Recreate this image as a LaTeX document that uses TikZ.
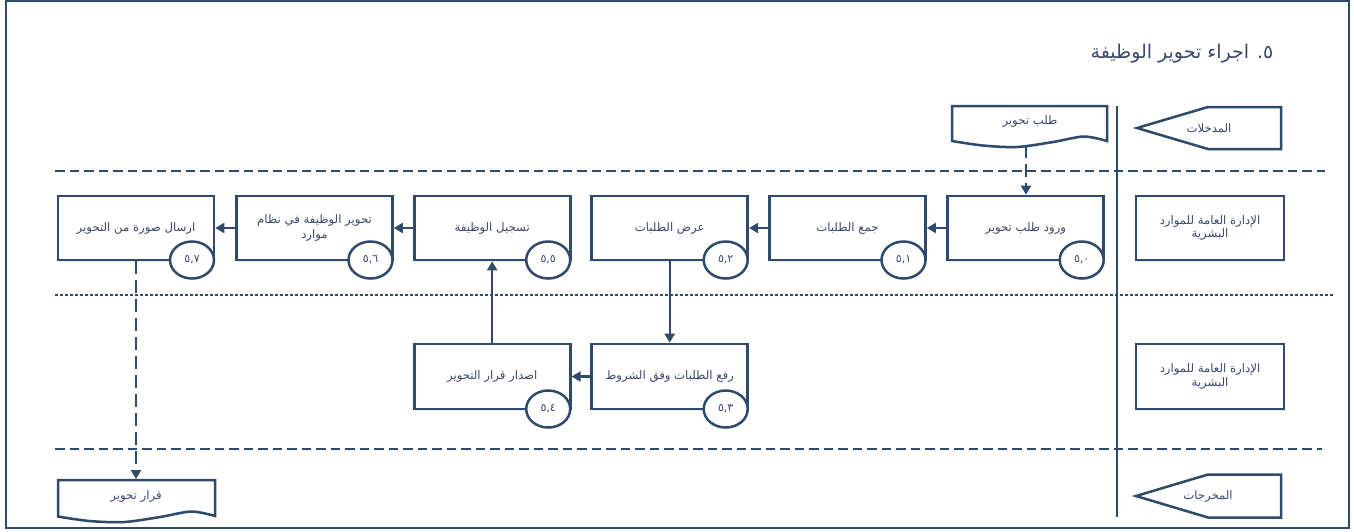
\documentclass[tikz,border=0pt]{standalone}
\usepackage{fontspec}
\usetikzlibrary{arrows.meta,shapes.geometric,shadows}
\TeXXeTstate=1
\newfontfamily\arabicfont[Script=Arabic]{DejaVu Sans}
\definecolor{lc}{RGB}{46,75,107}
\definecolor{tc}{RGB}{58,72,108}
\newcommand{\ar}[1]{\beginR #1\endR}

\begin{document}
\begin{tikzpicture}[x=1pt,y=-1pt,
  every node/.style={font=\arabicfont\fontsize{11.7}{13.5}\selectfont, text=tc},
  softshadow/.style={drop shadow={shadow xshift=1pt, shadow yshift=-1.5pt, opacity=0.18, fill=lc!60}},
  proc/.style={draw=lc, line width=2.7pt, fill=white, minimum width=156pt, minimum height=64pt,
    inner sep=2pt, align=center, softshadow},
  lanebox/.style={proc, minimum width=148pt},
  num/.style={ellipse, draw=lc, line width=2.5pt, fill=white, minimum width=44pt, minimum height=37pt,
    inner sep=0pt, softshadow, font=\arabicfont\fontsize{11}{12}\selectfont},
  outline/.style={draw=lc, line width=2.5pt, fill=white, softshadow},
  flow/.style={draw=lc, line width=2.2pt, -{Triangle[length=9pt,width=10pt]}},
  dflow/.style={flow, dash pattern=on 13pt off 6pt},
  divider/.style={draw=lc, line width=2pt, dash pattern=on 9.5pt off 5pt},
  dotdivider/.style={draw=lc, line width=2pt, dash pattern=on 3pt off 2pt}]

\useasboundingbox (0,0) rectangle (1354,531);
\draw[lc, line width=2.2pt] (6,1) rectangle (1349,528);

% lane separators and header column line
\draw[divider] (55,171) -- (1325,171);
\draw[dotdivider] (55,295) -- (1333,295);
\draw[divider] (55,449) -- (1322,449);
\draw[lc, line width=2.6pt] (1117,106) -- (1117,517);

% title
\node[font=\arabicfont\fontsize{19}{22}\selectfont] (title) at (1182,54) {\ar{٥. اجراء تحوير الوظيفة}};

% header column
\draw[outline] (1137,128) -- (1208,107) -- (1281,107) -- (1281,149) -- (1208,149) -- cycle;
\node (inlbl) at (1209,128) {\ar{المدخلات}};
\node[lanebox] (hr1) at (1210,228) {\ar{الإدارة العامة للموارد}\\\ar{البشرية}};
\node[lanebox, minimum height=65pt] (hr2) at (1210,376.5) {\ar{الإدارة العامة للموارد}\\\ar{البشرية}};
\draw[outline] (1136,496) -- (1208,474.5) -- (1281,474.5) -- (1281,517.5) -- (1208,517.5) -- cycle;
\node (outlbl) at (1208,496) {\ar{المخرجات}};

% input and output documents
\draw[outline] (952,106) -- (1107,106) -- plot[smooth] coordinates
  {(1107,141) (1084,136.5) (1053,142) (1017,147) (983,145.5) (952,141)} -- cycle;
\node (doc1) at (1030,121) {\ar{طلب تحوير}};
\coordinate (d1b) at (1026,145);

\draw[outline] (58,480) -- (215,480) -- plot[smooth] coordinates
  {(215,516) (191.5,511.5) (160,517) (124,522) (89.4,521) (58,516.5)} -- cycle;
\node (doc2) at (136,496) {\ar{قرار تحوير}};
\coordinate (d2t) at (136,479);

% process steps
\node[proc] (p50) at (1025.7,228) {\ar{ورود طلب تحوير}};
\node[proc] (p51) at (847.5,228) {\ar{جمع الطلبات}};
\node[proc] (p52) at (669.7,228) {\ar{عرض الطلبات}};
\node[proc] (p55) at (492.2,228) {\ar{تسجيل الوظيفة}};
\node[proc, font=\arabicfont\fontsize{11.7}{14.5}\selectfont] (p56) at (314.5,228)
  {\ar{تحوير الوظيفة في نظام}\\\ar{موارد}\vphantom{g}};
\node[proc] (p57) at (136,228) {\ar{ارسال صورة من التحوير}};
\node[proc, minimum height=65pt] (p53) at (669.7,376.5) {\ar{رفع الطلبات وفق الشروط}};
\node[proc, minimum height=65pt] (p54) at (492.2,376.5) {\ar{اصدار قرار التحوير}};

% step numbers
\node[num] (n50) at (1081.7,260) {٥,٠};
\node[num] (n51) at (903.5,260) {٥,١};
\node[num] (n52) at (725.7,260) {٥,٢};
\node[num] (n55) at (548.2,260) {٥,٥};
\node[num] (n56) at (370.5,260) {٥,٦};
\node[num] (n57) at (192,260) {٥,٧};
\node[num] (n53) at (725.7,409) {٥,٣};
\node[num] (n54) at (548.2,409) {٥,٤};

% connectors
\draw[dflow] (d1b) -- (d1b |- p50.north);
\draw[flow] (p50.west) -- (p51.east);
\draw[flow] (p51.west) -- (p52.east);
\draw[flow] (p52.south) -- (p53.north);
\draw[flow] (p53.west) -- (p54.east);
\draw[flow] (p54.north) -- (p55.south);
\draw[flow] (p55.west) -- (p56.east);
\draw[flow] (p56.west) -- (p57.east);
\draw[dflow] (p57.south) -- (d2t);
\end{tikzpicture}
\end{document}
